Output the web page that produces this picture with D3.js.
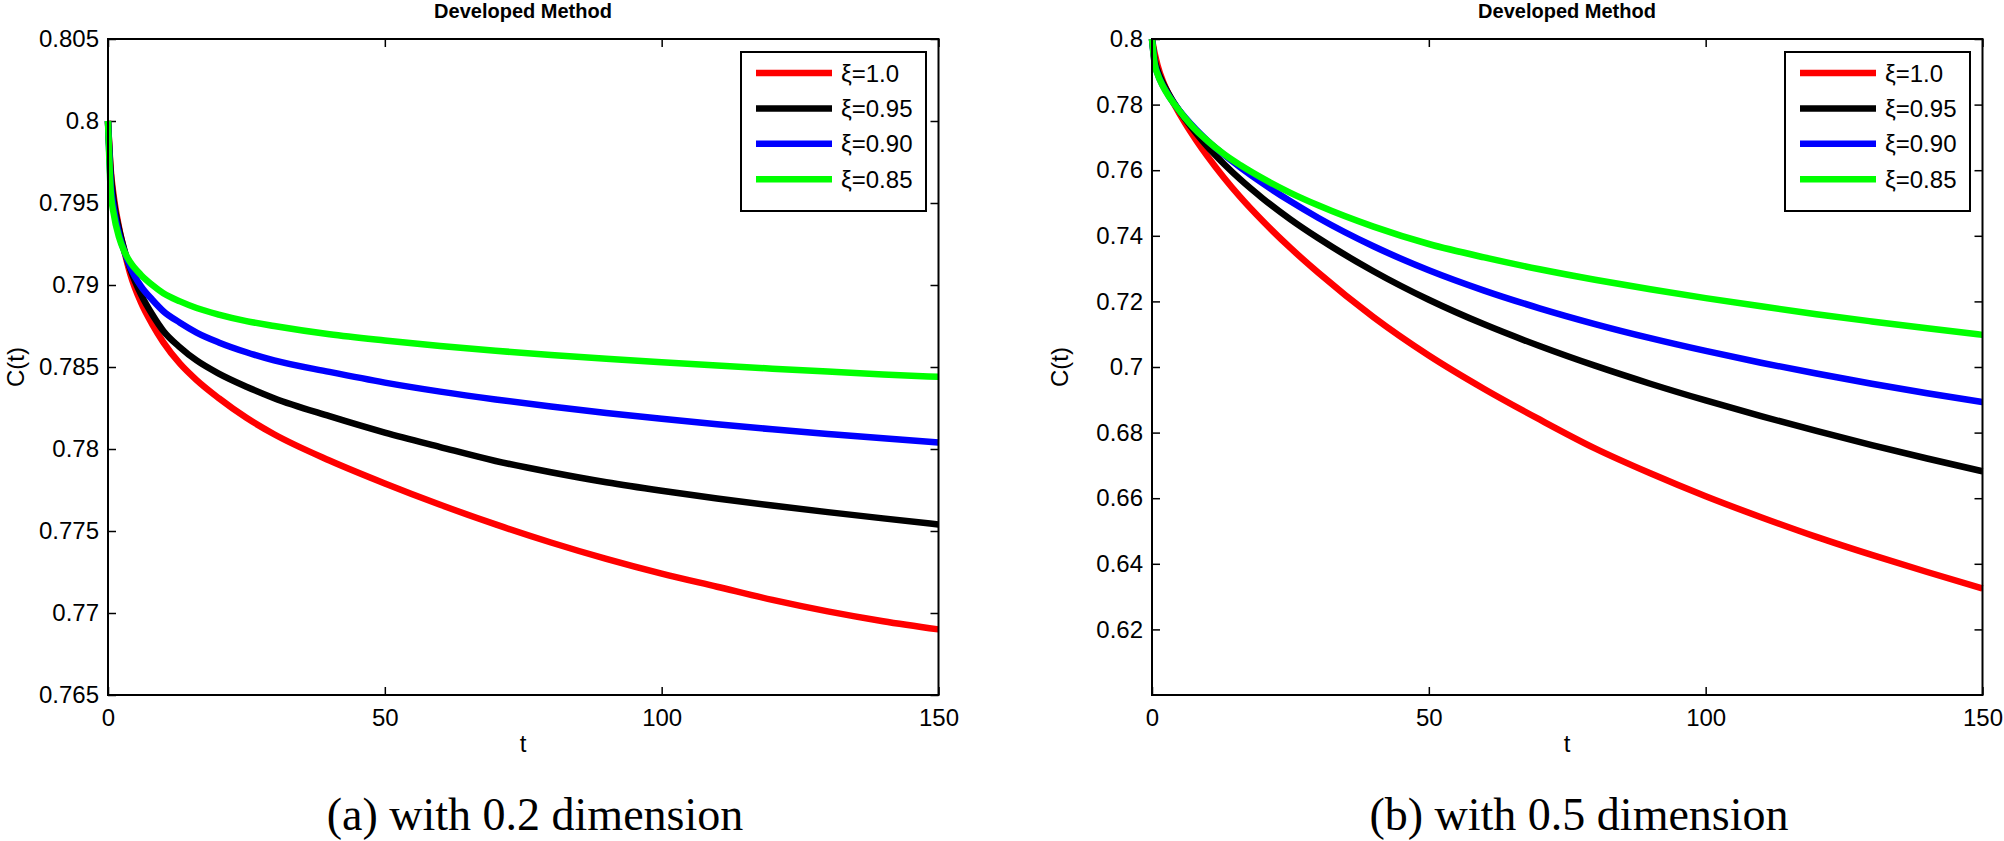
<!doctype html>
<html>
<head>
<meta charset="UTF-8">
<title>Developed Method</title>
<script src="https://cdn.jsdelivr.net/npm/d3@7"></script>
<style>
  body { margin: 0; background: #fff; }
  text { font-family: "Liberation Sans", Arial, sans-serif; fill: #000; }
</style>
</head>
<body>
<script>
// time points (shared by both panels)
var tVals = [0, 0.5, 1, 2, 3, 4, 6, 8, 10, 13, 16, 20, 25, 30, 40, 50, 60, 70, 80, 90, 100, 110, 120, 130, 140, 150];

// panel (a) with 0.2 dimension
var a_xi100 = [0.8, 0.7970, 0.7955, 0.7935, 0.7920, 0.7907, 0.7889, 0.7876, 0.7865, 0.7852, 0.7842, 0.7831, 0.7819, 0.7809, 0.7793, 0.7779, 0.7766, 0.7754, 0.7743, 0.7733, 0.7724, 0.7716, 0.7708, 0.7701, 0.7695, 0.7690];
var a_xi095 = [0.8, 0.7968, 0.7952, 0.7934, 0.7921, 0.7910, 0.7894, 0.7882, 0.7872, 0.7862, 0.7854, 0.7846, 0.7838, 0.7831, 0.7820, 0.7810, 0.78012, 0.77927, 0.77858, 0.77797, 0.77745, 0.77698, 0.77655, 0.77615, 0.77577, 0.7754];
var a_xi090 = [0.8, 0.7962, 0.7948, 0.7931, 0.7920, 0.7911, 0.7899, 0.7891, 0.7884, 0.7877, 0.7871, 0.7865, 0.7859, 0.7854, 0.7847, 0.78405, 0.78350, 0.78302, 0.78259, 0.78220, 0.78184, 0.78151, 0.78120, 0.78092, 0.78065, 0.7804];
var a_xi085 = [0.8, 0.7957, 0.7944, 0.7929, 0.7920, 0.7914, 0.7906, 0.7900, 0.7895, 0.7890, 0.7886, 0.7882, 0.7878, 0.7875, 0.7870, 0.78662, 0.78628, 0.78599, 0.78573, 0.78550, 0.78529, 0.78509, 0.78490, 0.78472, 0.78455, 0.78440];

// panel (b) with 0.5 dimension
var b_xi100 = [0.8, 0.7955, 0.7920, 0.7870, 0.7833, 0.7801, 0.7743, 0.7691, 0.7643, 0.7577, 0.7517, 0.7445, 0.7363, 0.7288, 0.7152, 0.7035, 0.6933, 0.6840, 0.6752, 0.6676, 0.6606, 0.6542, 0.6482, 0.6427, 0.6375, 0.6325];
var b_xi095 = [0.8, 0.7935, 0.7905, 0.7865, 0.7833, 0.7805, 0.7756, 0.7712, 0.7672, 0.7619, 0.7571, 0.7514, 0.7450, 0.7393, 0.7292, 0.7205, 0.7130, 0.7064, 0.7004, 0.6949, 0.6898, 0.6850, 0.6805, 0.6762, 0.6721, 0.6682];
var b_xi090 = [0.8, 0.7925, 0.7895, 0.7857, 0.7828, 0.7803, 0.7760, 0.7723, 0.7690, 0.7647, 0.7608, 0.7560, 0.7505, 0.7455, 0.7368, 0.7295, 0.7233, 0.7179, 0.7131, 0.7088, 0.7049, 0.7013, 0.6980, 0.6949, 0.6920, 0.6893];
var b_xi085 = [0.8, 0.7922, 0.7893, 0.7855, 0.7826, 0.7802, 0.7759, 0.7721, 0.7690, 0.7649, 0.7615, 0.7575, 0.7531, 0.7493, 0.7428, 0.7375, 0.7334, 0.7298, 0.7266, 0.7237, 0.7210, 0.7185, 0.7161, 0.7139, 0.7118, 0.7098];

var seriesNames = ["\u03BE=1.0", "\u03BE=0.95", "\u03BE=0.90", "\u03BE=0.85"];
var seriesColors = ["#ff0000", "#000000", "#0000ff", "#00ff00"];

var xTicks = [0, 50, 100, 150];
var aYTicks = [0.765, 0.77, 0.775, 0.78, 0.785, 0.79, 0.795, 0.8, 0.805];
var bYTicks = [0.62, 0.64, 0.66, 0.68, 0.7, 0.72, 0.74, 0.76, 0.78, 0.8];

var svg = d3.select("body").append("svg")
  .attr("width", 2004)
  .attr("height", 841);

svg.append("rect").attr("width", 2004).attr("height", 841).attr("fill", "white");

function drawPanel(opt) {
  var x = d3.scaleLinear().domain([0, 150]).range([opt.left, opt.left + 830.5]);
  var y = d3.scaleLinear().domain(opt.yDomain).range([695, 39]);
  var g = svg.append("g");

  // ticks on all four sides, pointing inward
  g.append("g").attr("transform", "translate(" + opt.left + ",0)")
    .call(d3.axisLeft(y).tickValues(opt.yTicks).tickFormat(d3.format("~g"))
      .tickSizeInner(-8).tickSizeOuter(0).tickPadding(9));
  var xAx = g.append("g").attr("transform", "translate(0,695)")
    .call(d3.axisBottom(x).tickValues(xTicks).tickFormat(d3.format("d"))
      .tickSizeInner(-8).tickSizeOuter(0).tickPadding(14));
  g.append("g").attr("transform", "translate(0,39)")
    .call(d3.axisTop(x).tickValues(xTicks).tickFormat("").tickSizeInner(-8).tickSizeOuter(0));
  g.append("g").attr("transform", "translate(" + (opt.left + 830.5) + ",0)")
    .call(d3.axisRight(y).tickValues(opt.yTicks).tickFormat("").tickSizeInner(-8).tickSizeOuter(0));
  g.selectAll(".domain").remove();
  g.selectAll(".tick line").attr("stroke", "#000").attr("stroke-width", 1.5);
  g.selectAll(".tick text").style("font-size", "24px").attr("fill", "#000");
  xAx.selectAll(".tick text").attr("dy", "0.71em");

  // curves
  var line = d3.line().x(function(d) { return x(d[0]); }).y(function(d) { return y(d[1]); })
    .curve(d3.curveMonotoneX);
  opt.series.forEach(function(vals, i) {
    g.append("path")
      .datum(tVals.map(function(t, k) { return [t, vals[k]]; }))
      .attr("fill", "none")
      .attr("stroke", seriesColors[i])
      .attr("stroke-width", 6.5)
      .attr("d", line);
  });

  // frame
  g.append("rect")
    .attr("x", opt.left).attr("y", 39)
    .attr("width", 830.5).attr("height", 656)
    .attr("fill", "none").attr("stroke", "#000").attr("stroke-width", 2);

  // title, axis labels, caption
  g.append("text").attr("x", opt.left + 415).attr("y", 18)
    .attr("text-anchor", "middle").style("font-size", "20px").style("font-weight", "bold")
    .text("Developed Method");
  g.append("text").attr("x", opt.left + 415).attr("y", 752)
    .attr("text-anchor", "middle").style("font-size", "24px").text("t");
  g.append("text")
    .attr("transform", "translate(" + (opt.left - opt.yLabelGap) + ",367) rotate(-90)")
    .attr("text-anchor", "middle").style("font-size", "24px").text("C(t)");
  g.append("text").attr("x", opt.left + opt.captionShift).attr("y", 830)
    .attr("text-anchor", "middle")
    .style("font-family", "'Liberation Serif', 'Times New Roman', serif")
    .style("font-size", "46px").text(opt.caption);

  // legend
  var lg = g.append("g").attr("transform", "translate(" + (opt.left + 633) + ",52)");
  lg.append("rect").attr("width", 185).attr("height", 159)
    .attr("fill", "white").attr("stroke", "#000").attr("stroke-width", 2);
  seriesNames.forEach(function(name, i) {
    var yy = 21 + i * 35.4;
    lg.append("line").attr("x1", 15).attr("x2", 91).attr("y1", yy).attr("y2", yy)
      .attr("stroke", seriesColors[i]).attr("stroke-width", 6.5);
    lg.append("text").attr("x", 100).attr("y", yy).attr("dy", "0.36em")
      .style("font-size", "24px").text(name);
  });
}

drawPanel({
  left: 108, yDomain: [0.765, 0.805], yTicks: aYTicks, yLabelGap: 84, captionShift: 427,
  series: [a_xi100, a_xi095, a_xi090, a_xi085],
  caption: "(a) with 0.2 dimension"
});
drawPanel({
  left: 1152, yDomain: [0.6, 0.8], yTicks: bYTicks, yLabelGap: 84, captionShift: 427,
  series: [b_xi100, b_xi095, b_xi090, b_xi085],
  caption: "(b) with 0.5 dimension"
});
</script>
</body>
</html>
